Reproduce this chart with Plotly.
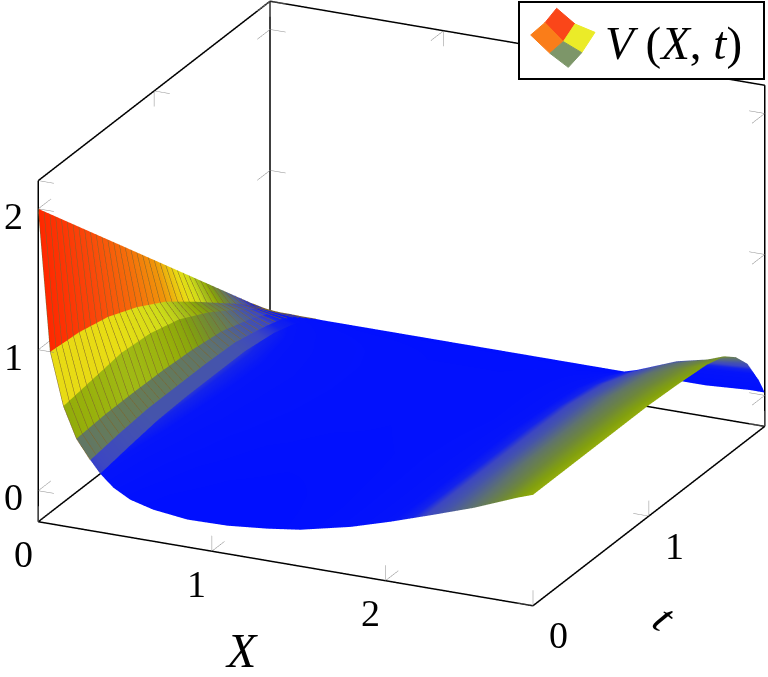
import plotly.graph_objects as go
import numpy as np

X_GRID = [0, 0.069, 0.145, 0.22, 0.30, 0.357, 0.433, 0.53, 0.663, 0.86, 1.09, 1.32, 1.51, 1.8, 2.03, 2.28, 2.51, 2.76, 2.85]
T_GRID = [0, 0.25, 0.5, 0.75, 1.0, 1.25, 1.5, 1.65, 1.75, 1.85, 1.95, 2.0]
V_BY_X = [
    [2.0, 1.75, 1.5, 1.25, 1.0, 0.75, 0.5, 0.35, 0.25, 0.15, 0.05, 0.0],
    [1.0, 0.98, 0.93, 0.84, 0.72, 0.56, 0.39, 0.29, 0.21, 0.13, 0.04, 0.0],
    [0.63, 0.66, 0.69, 0.67, 0.61, 0.50, 0.36, 0.27, 0.20, 0.12, 0.04, 0.0],
    [0.415, 0.43, 0.43, 0.425, 0.41, 0.38, 0.31, 0.25, 0.19, 0.12, 0.04, 0.0],
    [0.28, 0.31, 0.33, 0.33, 0.33, 0.32, 0.27, 0.23, 0.18, 0.11, 0.04, 0.0],
    [0.195, 0.23, 0.26, 0.27, 0.27, 0.27, 0.24, 0.20, 0.16, 0.10, 0.03, 0.0],
    [0.112, 0.15, 0.19, 0.21, 0.22, 0.22, 0.20, 0.17, 0.14, 0.09, 0.03, 0.0],
    [0.047, 0.09, 0.13, 0.16, 0.17, 0.18, 0.16, 0.14, 0.12, 0.08, 0.03, 0.0],
    [0.004, 0.04, 0.08, 0.11, 0.13, 0.14, 0.13, 0.12, 0.10, 0.07, 0.03, 0.0],
    [-0.025, 0.01, 0.04, 0.07, 0.09, 0.10, 0.10, 0.09, 0.08, 0.06, 0.02, 0.0],
    [-0.02, 0.0, 0.02, 0.05, 0.07, 0.08, 0.08, 0.07, 0.06, 0.05, 0.02, 0.0],
    [0.007, 0.02, 0.03, 0.05, 0.06, 0.07, 0.07, 0.07, 0.06, 0.05, 0.02, 0.0],
    [0.039, 0.04, 0.05, 0.06, 0.07, 0.07, 0.07, 0.07, 0.06, 0.05, 0.02, 0.0],
    [0.12, 0.12, 0.12, 0.12, 0.11, 0.10, 0.10, 0.09, 0.08, 0.06, 0.02, 0.0],
    [0.205, 0.20, 0.20, 0.20, 0.20, 0.19, 0.18, 0.16, 0.13, 0.08, 0.03, 0.0],
    [0.307, 0.31, 0.31, 0.31, 0.31, 0.31, 0.29, 0.26, 0.22, 0.15, 0.04, 0.0],
    [0.404, 0.41, 0.42, 0.42, 0.42, 0.42, 0.40, 0.37, 0.33, 0.25, 0.07, 0.0],
    [0.528, 0.53, 0.53, 0.53, 0.53, 0.52, 0.50, 0.46, 0.40, 0.30, 0.12, 0.02],
    [0.567, 0.567, 0.567, 0.567, 0.567, 0.555, 0.535, 0.50, 0.43, 0.32, 0.138, 0.02],
]
X_TICKS = [0, 1, 2]
T_TICKS = [0, 1, 2]
T_LABELLED = [0, 1]
Z_TICKS = [0, 1, 2]
X_RANGE = [0, 2.85]
T_RANGE = [0, 2.0]
Z_RANGE = [-0.22, 2.2]
COLOR_STOPS = [
    (0.0, "rgb(0,15,255)"), (0.2, "rgb(5,20,250)"), (0.25, "rgb(20,35,235)"),
    (0.28, "rgb(60,70,195)"), (0.33, "rgb(70,85,170)"), (0.40, "rgb(95,115,110)"),
    (0.47, "rgb(110,135,60)"), (0.53, "rgb(130,160,15)"), (0.57, "rgb(150,175,10)"),
    (0.63, "rgb(165,190,25)"), (0.70, "rgb(205,220,25)"), (0.81, "rgb(232,222,20)"),
    (0.90, "rgb(235,190,15)"), (1.0, "rgb(240,150,10)"), (1.25, "rgb(245,110,10)"),
    (1.6, "rgb(250,70,10)"), (2.0, "rgb(255,40,0)"),
]
# the first strips in X carry one colour across their width; how much of it comes from the left edge
STRIP_LEFT_WEIGHT = [1.0, 0.5, 0.7, 1.0, 1.0]
MESHED_STRIPS = 4    # only these coarse strips show their mesh lines
FONT = "Liberation Serif"
W, H = 768, 677

V = np.array(V_BY_X)
xs, rows, cols = [], [], []
eps = 1e-4
n_strips = len(STRIP_LEFT_WEIGHT)
def strip_color(k):
    w = STRIP_LEFT_WEIGHT[k]
    return w * V[k] + (1 - w) * V[k + 1]
for i in range(len(X_GRID)):
    if 0 < i <= n_strips:
        xs.append(X_GRID[i] - eps)
        rows.append(V[i])
        cols.append(strip_color(i - 1))
    xs.append(X_GRID[i])
    rows.append(V[i])
    cols.append(strip_color(i) if i < n_strips else V[i])
Z = np.array(rows).T
C = np.array(cols).T
split = 2 * MESHED_STRIPS   # column index of the last strip edge of the meshed part

shared = dict(
    y=T_GRID, cmin=0, cmax=2,
    colorscale=[[v / 2, c] for v, c in COLOR_STOPS], showscale=False,
    lighting=dict(ambient=1, diffuse=0, specular=0, fresnel=0, roughness=1),
    hoverinfo="skip",
)
surface_left = go.Surface(
    x=xs[:split], z=Z[:, :split], surfacecolor=C[:, :split],
    contours=dict(y=dict(show=True, start=0, end=2, size=0.05, color="rgb(125,100,45)", width=2)),
    **shared,
)
surface_main = go.Surface(x=xs[split - 1:], z=Z[:, split - 1:], surfacecolor=C[:, split - 1:], **shared)

x0, x1 = X_RANGE; t0, t1 = T_RANGE; z0, z1 = Z_RANGE
edges = [
    ((x0, t0, z0), (x1, t0, z0)), ((x1, t0, z0), (x1, t1, z0)),
    ((x0, t0, z0), (x0, t0, z1)), ((x1, t1, z0), (x1, t1, z1)),
    ((x0, t1, z0), (x0, t1, z1)), ((x0, t0, z1), (x0, t1, z1)),
    ((x0, t1, z1), (x1, t1, z1)), ((x0, t0, z0), (x0, t1, z0)),
    ((x0, t1, z0), (x1, t1, z0)),
]
def segs(pairs):
    out = [[], [], []]
    for a, b in pairs:
        for k in range(3):
            out[k] += [a[k], b[k], None]
    return out
box = segs(edges)
box_trace = go.Scatter3d(x=box[0], y=box[1], z=box[2], mode="lines",
                         line=dict(color="black", width=3), hoverinfo="skip", showlegend=False)

dx, dt, dz = 0.09, 0.11, 0.11
tick_pairs = []
def add(p, *dirs):
    for d in dirs:
        tick_pairs.append((p, (p[0] + d[0], p[1] + d[1], p[2] + d[2])))
for v in X_TICKS:
    add((v, t0, z0), (0, 0, dz), (0, dt, 0))
    add((v, t1, z1), (0, 0, -dz), (0, -dt, 0))
for v in T_TICKS:
    add((x1, v, z0), (0, 0, dz), (-dx, 0, 0))
    add((x0, v, z1), (0, 0, -dz), (dx, 0, 0))
for v in Z_TICKS:
    add((x0, t0, v), (dx, 0, 0), (0, dt, 0))
    add((x0, t1, v), (dx, 0, 0), (0, -dt, 0))
    add((x1, t1, v), (-dx, 0, 0), (0, -dt, 0))
tk = segs(tick_pairs)
tick_trace = go.Scatter3d(x=tk[0], y=tk[1], z=tk[2], mode="lines",
                          line=dict(color="#8a8a8a", width=1), hoverinfo="skip", showlegend=False)

axis_common = dict(showgrid=False, zeroline=False, showbackground=False, showspikes=False,
                   showline=False, ticks="", showticklabels=False, title=dict(text=""))
R = 2.0
SCALE = 1.8
PAD = 0.01   # scene reaches just past the drawn box so its edges are not clipped
a, b, s, c = 0.424, 0.905, 0.3624, 0.932
def padded(r):
    d = (r[1] - r[0]) * PAD
    return [r[0] - d, r[1] + d]
grow = 1 + 2 * PAD

def tick_label(v, pos, xshift, yshift):
    return dict(x=pos[0], y=pos[1], z=pos[2], text=str(v), showarrow=False,
                xshift=xshift, yshift=yshift, xanchor="center", yanchor="middle",
                font=dict(family=FONT, size=38, color="black"))
scene_notes = (
    [tick_label(v, (x0, t0, v), -25, -7) for v in Z_TICKS]
    + [tick_label(v, (v, t0, z0), -15, -33) for v in X_TICKS]
    + [tick_label(v, (x1, v, z0), 26, -30) for v in T_LABELLED]
)
scene = dict(
    domain=dict(x=[0.0456, 1], y=[0.104, 1]),
    xaxis=dict(range=padded(X_RANGE), tickvals=X_TICKS, **axis_common),
    yaxis=dict(range=padded(T_RANGE), tickvals=T_TICKS, **axis_common),
    zaxis=dict(range=padded(Z_RANGE), tickvals=Z_TICKS, **axis_common),
    aspectmode="manual", aspectratio=dict(x=SCALE * grow, y=SCALE * grow, z=0.67 * SCALE * grow),
    camera=dict(projection=dict(type="orthographic"),
                eye=dict(x=a * c * R, y=-b * c * R, z=s * R),
                up=dict(x=0, y=0, z=1), center=dict(x=0, y=0, z=0)),
    annotations=scene_notes,
)

def px(x, y):
    return x / W, 1 - y / H
def path(points):
    pts = [px(500 + x / 3, y / 3) for x, y in points]
    return "M " + " L ".join(f"{x:.4f},{y:.4f}" for x, y in pts) + " Z"
lx0, ly0 = px(519, 2); lx1, ly1 = px(764, 79)
shapes = [dict(type="rect", xref="paper", yref="paper", x0=lx0, x1=lx1, y0=ly0, y1=ly1,
               fillcolor="white", line=dict(color="black", width=2), layer="above")]
quads = [
    ([(170, 25), (225, 72), (190, 125), (135, 68)], "rgb(250,70,25)"),
    ([(135, 68), (190, 125), (150, 160), (92, 105)], "rgb(250,125,25)"),
    ([(225, 72), (285, 97), (245, 158), (190, 125)], "rgb(235,235,40)"),
    ([(190, 125), (245, 158), (205, 202), (150, 160)], "rgb(125,150,105)"),
]
for q, col in quads:
    shapes.append(dict(type="path", xref="paper", yref="paper", path=path(q), fillcolor=col,
                       line=dict(color=col, width=1), layer="above"))

def note(text, x, y, size, angle=0):
    xx, yy = px(x, y)
    return dict(text=text, x=xx, y=yy, xref="paper", yref="paper", showarrow=False,
                xanchor="center", yanchor="middle", textangle=angle,
                font=dict(family=FONT, size=size, color="black"))
annotations = [
    note("<i>V</i> (<i>X</i>, <i>t</i>)", 673, 43, 47),
    note("<i>X</i>", 241, 650, 48),
    note("<i>t</i>", 665, 618, 44, 40),
]

fig = go.Figure([surface_left, surface_main, tick_trace, box_trace])
fig.update_layout(width=W, height=H, margin=dict(l=0, r=0, t=0, b=0), scene=scene,
                  paper_bgcolor="white", showlegend=False, shapes=shapes, annotations=annotations)
fig.write_html("out.html", config=dict(displayModeBar=False),
               post_script="document.body.style.margin='0';")
